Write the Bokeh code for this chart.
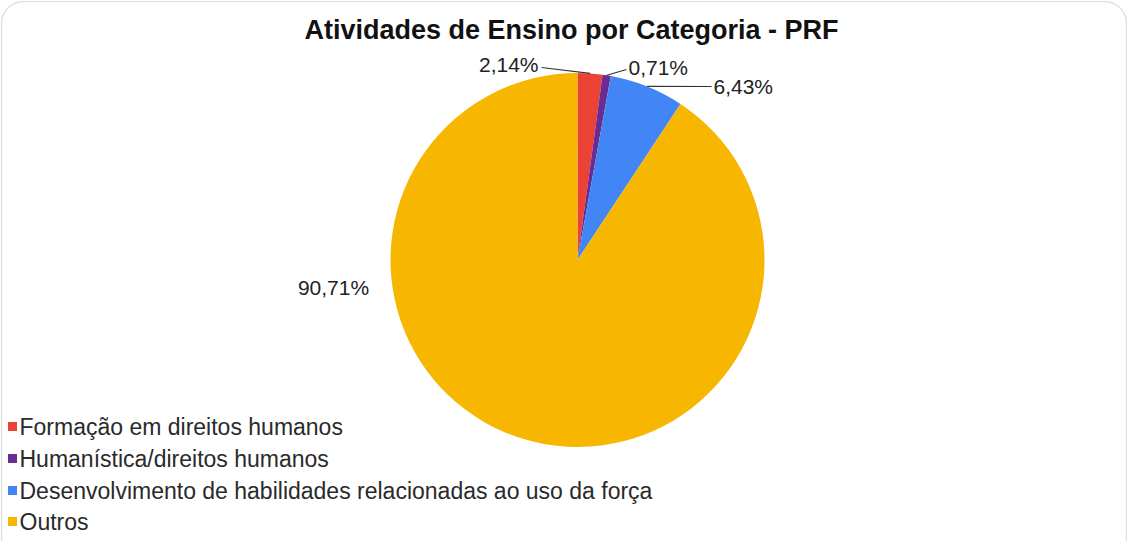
import math
from bokeh.plotting import figure
from bokeh.models import Range1d, ColumnDataSource, BoxAnnotation
from bokeh.core.properties import value
from bokeh.embed import file_html
from bokeh.resources import INLINE

# ---- data ----
title_text = "Atividades de Ensino por Categoria - PRF"
categories = [
    "Formação em direitos humanos",
    "Humanística/direitos humanos",
    "Desenvolvimento de habilidades relacionadas ao uso da força",
    "Outros",
]
percent = [2.14, 0.71, 6.43, 90.71]
pct_labels = ["2,14%", "0,71%", "6,43%", "90,71%"]
colors = ["#EA4335", "#6A2C91", "#4285F4", "#F7B700"]

# ---- layout (screen pixels in the page) ----
W, H = 1127, 541
FONT = "Liberation Sans"


def dx(x):  # page x -> data x
    return x - 8


def dy(y):  # page y -> data y
    return 549 - y


CX, CY, R = dx(585), dy(267.5), 187

# label placement: (page x, page y, align, elbow page x, elbow page y)
label_layout = [
    (546, 72, "right", 549, 75),
    (636, 75, "left", 634, 77),
    (721, 94, "left", 719, 94),
    (341, 295, "center", None, None),
]

p = figure(width=W, height=H, output_backend="svg", toolbar_location=None,
           x_range=Range1d(0, W), y_range=Range1d(0, H),
           x_axis_type=None, y_axis_type=None, min_border=0,
           outline_line_color=None, background_fill_color="white",
           border_fill_color="white")
p.grid.visible = False

# border frame
p.add_layout(BoxAnnotation(left=dx(9), right=dx(1134), top=dy(9), bottom=dy(620),
                           fill_alpha=0, line_color="#9c9c9c", line_width=1.5,
                           border_radius=22))

# pie
total = sum(percent)
starts, ends, mids = [], [], []
cum = 0.0
for v in percent:
    a0 = cum / total
    cum += v
    a1 = cum / total
    starts.append(math.pi / 2 - 2 * math.pi * a1)
    ends.append(math.pi / 2 - 2 * math.pi * a0)
    mids.append(math.pi / 2 - 2 * math.pi * (a0 + a1) / 2)

src = ColumnDataSource(dict(x=[CX] * 4, y=[CY] * 4, start=starts, end=ends,
                            color=colors, cat=categories))
p.wedge(x="x", y="y", radius=R, start_angle="start", end_angle="end",
        direction="anticlock", fill_color="color", line_color=None, source=src)

# labels and leader lines
for lab, mid, (lx, ly, al, ex, ey) in zip(pct_labels, mids, label_layout):
    p.text(x=[dx(lx)], y=[dy(ly)], text=[lab], text_align=al, text_baseline="middle",
           text_font=value(FONT), text_font_size="21px", text_color="#222222")
    if ex is not None:
        ax = CX + R * math.cos(mid)
        ay = CY + R * math.sin(mid)
        p.line(x=[dx(ex), ax], y=[dy(ey), ay], line_color="#333333", line_width=1.2)

# title
p.text(x=[dx(579)], y=[dy(37)], text=[title_text], text_align="center",
       text_baseline="middle", text_font=value(FONT), text_font_size="27px",
       text_font_style="bold", text_color="#111111")

# legend (manual)
leg_rows = [434, 466, 498, 529]
p.scatter(x=[dx(20)] * 4, y=[dy(r) for r in leg_rows], marker="square", size=9,
          fill_color=colors, line_color=None)
p.text(x=[dx(27)] * 4, y=[dy(r) for r in leg_rows], text=categories,
       text_align="left", text_baseline="middle", text_font=value(FONT),
       text_font_size="23px", text_color="#2a2a2a")

open("out.html", "w").write(file_html(p, INLINE))
